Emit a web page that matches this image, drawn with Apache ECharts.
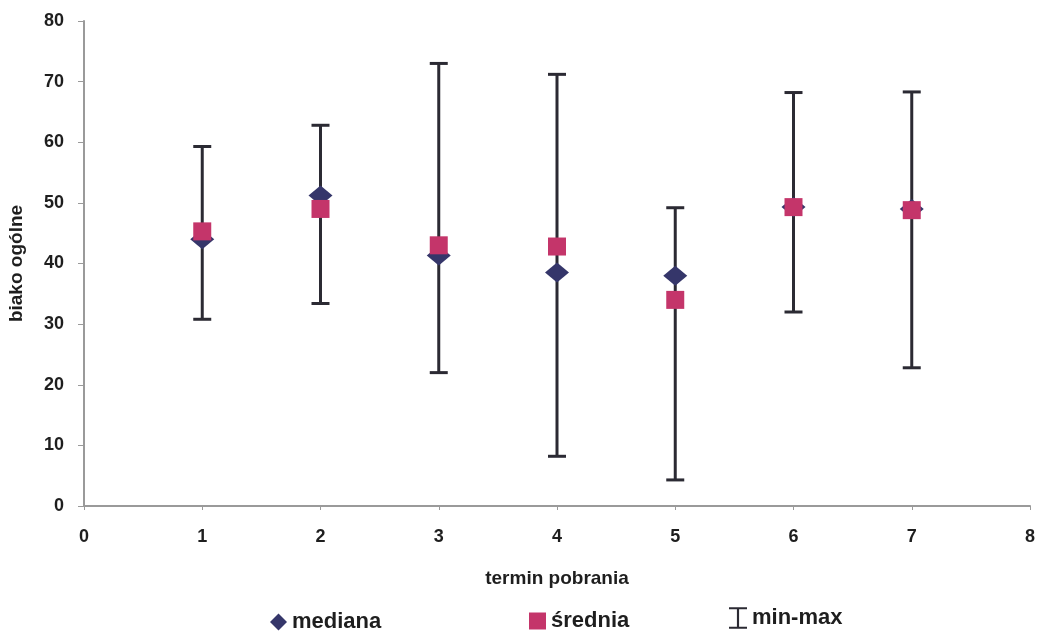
<!DOCTYPE html>
<html><head><meta charset="utf-8">
<script src="https://cdn.jsdelivr.net/npm/echarts@6/dist/echarts.min.js"></script>
<style>html,body{margin:0;padding:0;background:#fff}#c{width:1042px;height:632px}</style>
</head><body><div id="c"></div>
<script>
var terms = [1, 2, 3, 4, 5, 6, 7];
var mediana = [44.0, 51.2, 41.3, 38.5, 38.0, 49.3, 49.0];
var srednia = [45.3, 49.0, 43.0, 42.8, 34.0, 49.3, 48.8];
var minVals = [30.8, 33.4, 22.0, 8.2, 4.3, 32.0, 22.8];
var maxVals = [59.3, 62.8, 73.0, 71.2, 49.2, 68.2, 68.3];
var xTicks = [0, 1, 2, 3, 4, 5, 6, 7, 8];
var yTicks = [0, 10, 20, 30, 40, 50, 60, 70, 80];

var chart = echarts.init(document.getElementById('c'));
var font = 'Liberation Sans, Arial, sans-serif';
var navy = '#35366a', crimson = '#c4356a', barCol = '#2b2a33', txt = '#1e1e1e';
var iconBar = 'path://M0,0H10V1.2H5.6V10.8H10V12H0V10.8H4.4V1.2H0Z';
var legText = {fontFamily: font, fontSize: 22, fontWeight: 'bold', color: txt};

chart.setOption({
  animation: false,
  backgroundColor: '#fff',
  grid: {left: 84, right: 12, top: 21, bottom: 126, containLabel: false, outerBoundsMode: 'none'},
  legend: [
    {data: [{name: 'mediana', icon: 'diamond'}], left: 265, top: 606, itemWidth: 17, itemHeight: 17, itemGap: 4, textStyle: legText},
    {data: [{name: 'średnia', icon: 'rect'}], left: 524, top: 605, itemWidth: 17, itemHeight: 17, textStyle: legText},
    {data: [{name: 'min-max', icon: iconBar}], left: 724, top: 602, itemWidth: 18, itemHeight: 22, textStyle: legText}
  ],
  xAxis: {
    type: 'value', min: 0, max: 8, interval: 1,
    name: 'termin pobrania', nameLocation: 'middle', nameGap: 63,
    nameTextStyle: {fontFamily: font, fontSize: 19, fontWeight: 'bold', color: txt},
    axisLine: {lineStyle: {color: '#9a9a9a', width: 2}},
    axisTick: {show: true, length: 4, lineStyle: {color: '#9a9a9a'}},
    splitLine: {show: false},
    axisLabel: {fontFamily: font, fontSize: 18, fontWeight: 'bold', color: txt, margin: 22,
      formatter: function (v) { return xTicks.indexOf(v) >= 0 ? String(v) : ''; }}
  },
  yAxis: {
    type: 'value', min: 0, max: 80, interval: 10,
    name: 'biako ogólne', nameLocation: 'middle', nameGap: 58, nameRotate: 90,
    nameTextStyle: {fontFamily: font, fontSize: 19, fontWeight: 'bold', color: txt},
    axisLine: {show: true, lineStyle: {color: '#9a9a9a', width: 2}},
    axisTick: {show: true, length: 6, lineStyle: {color: '#9a9a9a'}},
    splitLine: {show: false},
    axisLabel: {fontFamily: font, fontSize: 18, fontWeight: 'bold', color: txt, margin: 20,
      formatter: function (v) { return yTicks.indexOf(v) >= 0 ? String(v) : ''; }}
  },
  series: [
    {
      name: 'min-max', type: 'custom', z: 1, color: barCol,
      data: terms.map(function (t, i) { return [t, minVals[i], maxVals[i]]; }),
      renderItem: function (params, api) {
        var lo = api.coord([api.value(0), api.value(1)]);
        var hi = api.coord([api.value(0), api.value(2)]);
        var w = 9;
        var st = {stroke: barCol, lineWidth: 3};
        return {type: 'group', children: [
          {type: 'line', shape: {x1: hi[0], y1: hi[1], x2: lo[0], y2: lo[1]}, style: st},
          {type: 'line', shape: {x1: hi[0] - w, y1: hi[1], x2: hi[0] + w, y2: hi[1]}, style: st},
          {type: 'line', shape: {x1: lo[0] - w, y1: lo[1], x2: lo[0] + w, y2: lo[1]}, style: st}
        ]};
      }
    },
    {
      name: 'mediana', type: 'scatter', z: 2, symbol: 'diamond', symbolSize: [24, 20],
      itemStyle: {color: navy, opacity: 1},
      data: terms.map(function (t, i) { return [t, mediana[i]]; })
    },
    {
      name: 'średnia', type: 'scatter', z: 3, symbol: 'rect', symbolSize: 18,
      itemStyle: {color: crimson, opacity: 1},
      data: terms.map(function (t, i) { return [t, srednia[i]]; })
    }
  ]
});
</script></body></html>
